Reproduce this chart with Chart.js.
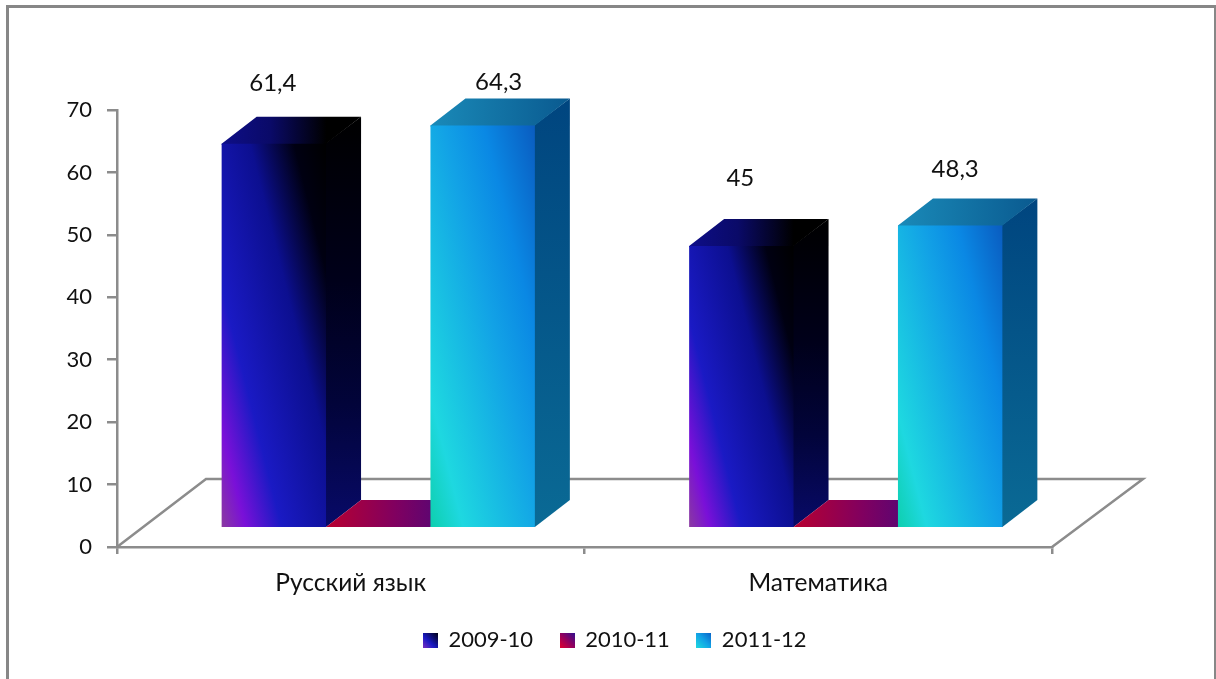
<!DOCTYPE html>
<html>
<head>
<meta charset="utf-8">
<style>
  html, body { margin: 0; padding: 0; background: #fff; overflow: hidden; }
  #frame { position: absolute; left: 6px; top: 5px; width: 1205px; height: 680px; border: 3px solid #878787; border-bottom: none; }
  canvas { position: absolute; left: 0; top: 0; }
</style>
</head>
<body>
<div id="frame"></div>
<canvas id="chart" width="1216" height="679"></canvas>
<script src="https://cdn.jsdelivr.net/npm/chart.js@4"></script>
<script>
const categories = ["Русский язык", "Математика"];
const seriesNames = ["2009-10", "2010-11", "2011-12"];
const values2009 = [61.4, 45];
const values2010 = [0, 0];
const values2011 = [64.3, 48.3];
const yTicks = [0, 10, 20, 30, 40, 50, 60, 70];

const FONT = "Lato, 'Open Sans', sans-serif";
const TEXT = "#111111";
const AXIS = "#8c8c8c";
const DEPTH_X = 35;    // 3d depth of the bars
const DEPTH_Y = 27;
const SHIFT_X = 27.5;  // bars sit in the middle of the floor, not on the front edge
const FLOOR_X = 89;    // depth of the floor
const FLOOR_Y = 68;
const SLOPE = 0.25;    // tilt of the front gradient

// label offsets from the middle of the bar top, per series and category
const labelOffsets = [
  [[-1, -60], [-1, -68]],
  null,
  [[16, -43], [5, -56]],
];

function stops(g, list) {
  list.forEach(s => g.addColorStop(s[0], s[1]));
  return g;
}

const faceStyles = [
  {
    front: [[0, "#8a3aa0"], [0.12, "#7a10d8"], [0.3, "#1a1ac4"], [0.62, "#0c0f90"], [0.84, "#000012"], [1, "#000000"]],
    side: [[0, "#080a68"], [0.3, "#02043a"], [0.6, "#00001a"], [1, "#000000"]],
    top: [[0, "#0e0e88"], [0.35, "#0a0a68"], [0.75, "#000000"], [1, "#000000"]],
  },
  {
    front: [[0, "#b80030"], [1, "#400a80"]],
    side: [[0, "#400a80"], [1, "#400a80"]],
    top: [[0, "#b80030"], [0.5, "#800060"], [1, "#400a80"]],
  },
  {
    front: [[0, "#0ecfae"], [0.16, "#1ed8e0"], [0.55, "#12a2e6"], [0.75, "#0a88e4"], [1, "#0a5cc0"]],
    side: [[0, "#0a6a95"], [1, "#00457f"]],
    top: [[0, "#1a8ab8"], [1, "#0a5a90"]],
  },
];

const legendCorners = [
  [[0, "#7a30c0"], [0.4, "#1a1ac4"], [1, "#000010"]],
  [[0, "#e00030"], [0.5, "#900060"], [1, "#301090"]],
  [[0, "#1ed8e0"], [0.5, "#12a2e6"], [1, "#0a60c8"]],
];

function legendSquare(list) {
  const c = document.createElement("canvas");
  c.width = 15;
  c.height = 15;
  const x = c.getContext("2d");
  x.fillStyle = stops(x.createLinearGradient(0, 15, 15, 0), list);
  x.fillRect(0, 0, 15, 15);
  return c;
}

function poly(ctx, pts, fill) {
  ctx.beginPath();
  pts.forEach((p, i) => (i ? ctx.lineTo(p[0], p[1]) : ctx.moveTo(p[0], p[1])));
  ctx.closePath();
  ctx.fillStyle = fill;
  ctx.fill();
}

const bars3d = {
  id: "bars3d",
  afterLayout(chart) {
    // legend is centred on the page, not on the plot area
    const legend = chart.legend;
    legend.left = 0;
    legend.right = 1230;
    legend.top = 602;
  },
  beforeDatasetsDraw(chart) {
    const ctx = chart.ctx;
    const a = chart.chartArea;

    // floor
    ctx.save();
    ctx.strokeStyle = AXIS;
    ctx.lineWidth = 2.5;
    ctx.beginPath();
    ctx.moveTo(a.left, a.bottom);
    ctx.lineTo(a.left + FLOOR_X, a.bottom - FLOOR_Y);
    ctx.lineTo(a.right + FLOOR_X + 2, a.bottom - FLOOR_Y);
    ctx.lineTo(a.right, a.bottom);
    ctx.stroke();
    ctx.restore();

    // own draw loop: later series have to cover the earlier ones
    ctx.save();
    ctx.translate(SHIFT_X, 0);
    chart.data.datasets.forEach((ds, i) => {
      const style = faceStyles[i];
      chart.getDatasetMeta(i).data.forEach(bar => {
        const L = bar.x - bar.width / 2;
        const R = bar.x + bar.width / 2;
        const T = bar.y;
        const B = bar.base;
        const hasFront = B - T > 0.5;
        // faces run 1px under the front so no seam shows
        const under = hasFront ? 1 : 0;

        poly(ctx, [[R - under, T], [R + DEPTH_X, T - DEPTH_Y], [R + DEPTH_X, B - DEPTH_Y], [R, B], [R - under, B]],
          stops(ctx.createLinearGradient(0, B, 0, T - DEPTH_Y), style.side));
        poly(ctx, [[L, T + under], [L, T], [L + DEPTH_X, T - DEPTH_Y], [R + DEPTH_X, T - DEPTH_Y], [R, T], [R, T + under]],
          stops(ctx.createLinearGradient(L, 0, R + DEPTH_X, 0), style.top));

        if (hasFront) {
          const len = (bar.width + SLOPE * (B - T)) / (1 + SLOPE * SLOPE);
          const g = ctx.createLinearGradient(L, B, L + len, B - len * SLOPE);
          bar.options.backgroundColor = stops(g, style.front);
          bar.draw(ctx);
        }
      });
    });
    ctx.restore();
    return false;
  },
  afterDraw(chart) {
    const ctx = chart.ctx;
    ctx.save();
    ctx.font = "24px " + FONT;
    ctx.fillStyle = TEXT;
    ctx.textAlign = "center";
    ctx.textBaseline = "middle";
    chart.data.datasets.forEach((ds, i) => {
      if (!labelOffsets[i]) return;
      chart.getDatasetMeta(i).data.forEach((bar, j) => {
        const off = labelOffsets[i][j];
        const txt = String(ds.data[j]).replace(".", ",");
        ctx.fillText(txt, bar.x + SHIFT_X + off[0], bar.y + off[1]);
      });
    });
    ctx.restore();
  },
};

const allValues = [values2009, values2010, values2011];

new Chart(document.getElementById("chart"), {
  type: "bar",
  data: {
    labels: categories,
    datasets: seriesNames.map((name, i) => ({
      label: name,
      data: allValues[i],
      yAxisID: "bars",
      backgroundColor: legendCorners[i][1][1],
      borderWidth: 0,
      barPercentage: 1,
      categoryPercentage: 0.67,
    })),
  },
  options: {
    responsive: false,
    animation: false,
    layout: { padding: { top: 110, right: 164, left: 0, bottom: 0 } },
    plugins: {
      tooltip: { enabled: false },
      legend: {
        position: "bottom",
        labels: {
          usePointStyle: true,
          pointStyleWidth: 14,
          font: { family: FONT, size: 22 },
          color: TEXT,
          padding: 27,
          generateLabels: chart => chart.data.datasets.map((ds, i) => ({
            text: ds.label,
            fontColor: TEXT,
            pointStyle: legendSquare(legendCorners[i]),
            datasetIndex: i,
            lineWidth: 0,
          })),
        },
      },
    },
    scales: {
      x: {
        grid: { offset: true, drawOnChartArea: false, color: AXIS, lineWidth: 2.5, tickLength: 7 },
        border: { color: AXIS, width: 2.5 },
        ticks: { font: { family: FONT, size: 24.5 }, color: TEXT, padding: 14, maxRotation: 0 },
        afterFit: s => { s.height = 73; },
      },
      y: {
        position: "left",
        min: 0,
        max: 70,
        afterBuildTicks: s => { s.ticks = yTicks.map(v => ({ value: v })); },
        grid: { drawOnChartArea: false, color: AXIS, lineWidth: 2.5, tickLength: 10 },
        border: { color: AXIS, width: 2.5 },
        ticks: { font: { family: FONT, size: 22 }, color: TEXT, padding: 15 },
        afterFit: s => { s.width = 117; },
      },
      // bars stand on the floor, 20px above the front edge
      bars: { display: false, min: -3.21, max: 66.79 },
    },
  },
  plugins: [bars3d],
});
</script>
</body>
</html>
